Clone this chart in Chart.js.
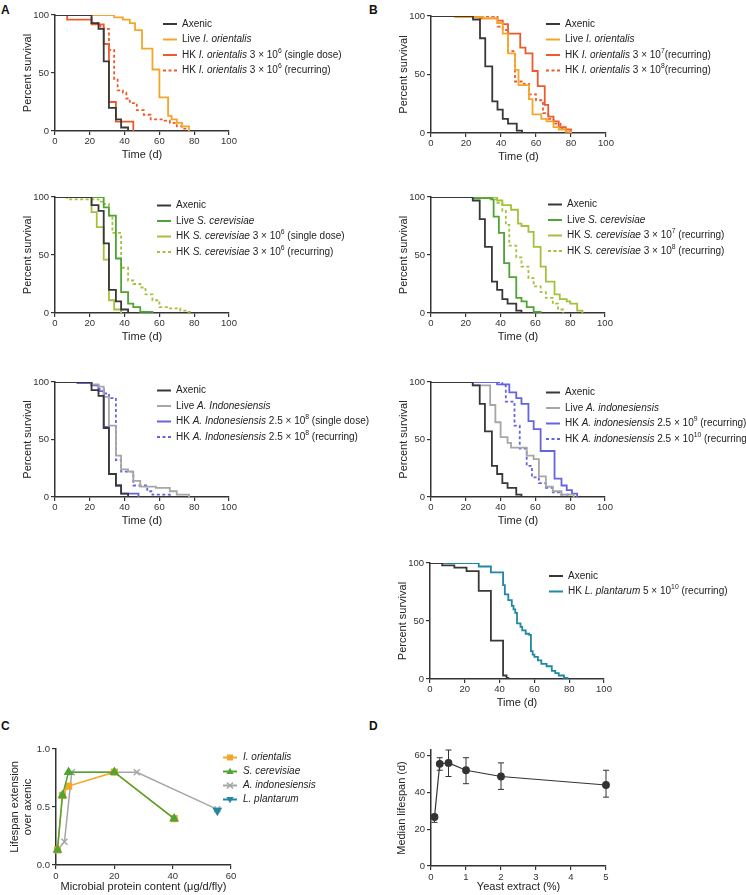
<!DOCTYPE html>
<html>
<head>
<meta charset="utf-8">
<script src="https://cdn.jsdelivr.net/npm/chart.js@4.4.1/dist/chart.umd.min.js"></script>
<style>
  html, body { margin: 0; padding: 0; background: #fff; }
  #page { position: relative; width: 746px; height: 895px; overflow: hidden; font-family: "Liberation Sans", Arial, sans-serif; }
  #page canvas { position: absolute; }
  .tag { position: absolute; font-weight: bold; font-size: 12px; line-height: 12px; color: #111; }
</style>
</head>
<body>
<div id="page">
  <div class="tag" style="left:1px;top:4px">A</div>
  <div class="tag" style="left:369px;top:4px">B</div>
  <div class="tag" style="left:1px;top:720px">C</div>
  <div class="tag" style="left:369px;top:720px">D</div>
</div>
<script>
// ticks
const timeTicks = [0, 20, 40, 60, 80, 100];
const survTicks = [0, 50, 100];

// Panel A : [time (d), percent survival]
const axenicA = [[0,100],[21,93],[25,88],[28,60],[31,20],[35,10],[38,3],[42,0]];
const liveIoA = [[0,100],[34,98],[39,96],[43,93],[46,87],[50,71],[56,53],[60,29],[65,13],[67,10],[70,7],[73,4],[77,0]];
const hkIoSingleA = [[0,100],[7,96],[21,92],[28,75],[31,25],[35,8],[45,0]];
const hkIoRecurA = [[0,100],[21,93],[26,90],[28,88],[31,70],[34,45],[36,35],[39,33],[41,28],[43,24],[47,18],[51,14],[55,10],[63,9],[66,7],[70,4],[73,2],[75,0]];

const liveScA = [[0,100],[28,91],[31,84],[35,47],[38,18],[42,8],[45,5],[49,1],[56,0]];
const hkScSingleA = [[0,100],[21,87],[24,74],[28,46],[31,11],[34,3],[38,0]];
const hkScRecurA = [[0,100],[7,98],[25,96],[28,94],[31,84],[33,69],[38,39],[42,28],[45,25],[49,22],[52,16],[56,11],[60,5],[65,4],[72,2],[75,1],[78,0]];

const liveAiA = [[0,100],[21,98],[25,96],[28,87],[31,62],[35,36],[38,24],[42,22],[45,14],[49,9],[58,8],[66,5],[70,2],[77,0]];
const hkAiSingleA = [[0,100],[13,99],[21,97],[25,92],[28,61],[31,20],[35,10],[38,3],[48,0]];
const hkAiRecurA = [[0,100],[13,99],[21,97],[25,94],[28,90],[31,86],[35,32],[38,22],[45,10],[53,5],[56,2],[66,0]];

// Panel B
const axenicB = [[0,100],[24,97],[28,81],[31,57],[35,27],[38,20],[41,12],[44,8],[49,2],[52,0]];
const liveIoB = [[0,100],[14,99],[30,98],[38,94],[41,85],[44,68],[48,54],[50,41],[56,29],[58,16],[63,12],[66,10],[70,5],[73,3],[77,1],[80,0]];
const hkIo7B = [[0,100],[14,99],[28,98],[38,96],[41,93],[44,85],[51,73],[54,68],[58,53],[61,40],[65,24],[67,14],[70,10],[73,5],[77,3],[80,0]];
const hkIo8B = [[0,100],[38,91],[41,88],[44,70],[48,44],[53,42],[56,33],[60,28],[64,17],[67,12],[70,8],[74,4],[77,1],[80,0]];

const liveScB = [[0,100],[24,99],[35,98],[36,83],[39,69],[42,43],[45,31],[49,13],[52,10],[55,5],[59,1],[63,0]];
const hkSc7B = [[0,100],[38,97],[41,93],[46,89],[50,77],[52,75],[56,70],[59,57],[63,40],[66,27],[71,16],[74,12],[78,10],[80,8],[84,2],[87,0]];
const hkSc8B = [[0,100],[33,98],[38,95],[41,88],[43,76],[45,58],[49,48],[52,40],[56,30],[59,23],[63,18],[66,13],[70,8],[73,3],[76,0]];

const liveAiB = [[0,100],[24,97],[34,80],[37,65],[40,52],[44,47],[46,43],[55,36],[59,33],[62,18],[66,9],[70,5],[75,2],[82,0]];
const hkAi9B = [[0,100],[38,98],[45,91],[49,86],[52,81],[56,66],[59,59],[63,40],[71,16],[75,10],[78,6],[81,3],[84,0]];
const hkAi10B = [[0,100],[41,97],[43,83],[48,62],[51,42],[55,27],[58,17],[62,12],[66,8],[70,4],[74,2],[79,0]];

const axenicLp = [[0,100],[7,98],[14,96],[21,93],[28,76],[35,33],[42,3],[44,1],[45,0]];
const hkLpB = [[0,100],[28,97],[35,92],[42,81],[43,73],[45,68],[47,63],[48,60],[49,57],[50,48],[52,45],[53,42],[55,39],[57,38],[58,24],[59,21],[60,19],[62,16],[64,13],[67,11],[70,7],[72,5],[74,3],[77,1],[79,0]];

// Panel C : microbial protein content (ug/d/fly) vs lifespan extension
const protTicks = [0, 20, 40, 60];
const extTicks = [0, 0.5, 1];
const ioProt = [0.5, 2.2, 4.3, 20, 40.5];
const ioExt = [0.13, 0.60, 0.68, 0.80, 0.40];
const scProt = [0.5, 2.2, 4.3, 20, 40.5];
const scExt = [0.13, 0.60, 0.80, 0.80, 0.40];
const aiProt = [0.5, 2.9, 5.4, 27.7, 55.3];
const aiExt = [0.13, 0.20, 0.80, 0.80, 0.48];
const lpProt = [55.3];
const lpExt = [0.47];

// Panel D : yeast extract (%) vs median lifespan (d)
const yeastTicks = [0, 1, 2, 3, 4, 5];
const lifeTicks = [0, 20, 40, 60];
const yeastPct = [0.1, 0.25, 0.5, 1, 2, 5];
const medianLife = [26.6, 55.5, 56, 52, 48.6, 44];
const medianLo = [23.7, 52, 48.6, 44.7, 41.6, 37.4];
const medianHi = [28, 58.8, 63, 58.8, 56, 52];

const FAM = '"Liberation Sans", Arial, Helvetica, sans-serif';
Chart.defaults.font.family = FAM;
Chart.defaults.color = '#333';

const DARK = '#383838', ORANGE = '#F4A62A', RED = '#EF5A2C', GREEN = '#4FA534',
      LIME = '#A4C13C', GRAY = '#A6A6A6', BLUE = '#6464E2', TEAL = '#2088A2';
const DASH = [3, 2.5];

const page = document.getElementById('page');

function addCanvas(left, top, w, h) {
  const c = document.createElement('canvas');
  c.width = w; c.height = h;
  c.style.left = left + 'px'; c.style.top = top + 'px';
  c.style.width = w + 'px'; c.style.height = h + 'px';
  page.appendChild(c);
  return c;
}

function fixTicks(list) {
  return s => { s.ticks = list.map(v => ({ value: v })); };
}

function axis(min, max, list, title, extra) {
  return Object.assign({
    type: 'linear', min, max,
    afterBuildTicks: fixTicks(list),
    grid: { display: true, drawOnChartArea: false, drawTicks: true, tickLength: 4, color: '#333', lineWidth: 1.2 },
    border: { display: true, color: '#333', width: 1.5 },
    ticks: { color: '#333', font: { size: 9.5 }, padding: 2 },
    title: { display: true, text: title, color: '#222', font: { size: 11 }, padding: { top: 4, bottom: 1 } }
  }, extra);
}

function drawRuns(ctx, runs, x, y) {
  runs.forEach(r => {
    let txt = r, font = '10px ' + FAM, dy = 0;
    if (typeof r === 'object') {
      if (r.i) { txt = r.i; font = 'italic 10px ' + FAM; }
      else { txt = r.sup; font = '6.8px ' + FAM; dy = -4; }
    }
    ctx.font = font;
    ctx.fillText(txt, x, y + dy);
    x += ctx.measureText(txt).width;
  });
}

function drawMarker(ctx, style, x, y, color) {
  ctx.save();
  ctx.fillStyle = color; ctx.strokeStyle = color; ctx.lineWidth = 1.5;
  ctx.beginPath();
  if (style === 'rect') { ctx.rect(x - 3, y - 3, 6, 6); ctx.fill(); }
  else if (style === 'triangle') { ctx.moveTo(x, y - 3.8); ctx.lineTo(x + 3.6, y + 2.6); ctx.lineTo(x - 3.6, y + 2.6); ctx.closePath(); ctx.fill(); }
  else if (style === 'down') { ctx.moveTo(x, y + 3.8); ctx.lineTo(x + 3.6, y - 2.6); ctx.lineTo(x - 3.6, y - 2.6); ctx.closePath(); ctx.fill(); }
  else { ctx.moveTo(x - 3, y - 3); ctx.lineTo(x + 3, y + 3); ctx.moveTo(x + 3, y - 3); ctx.lineTo(x - 3, y + 3); ctx.stroke(); }
  ctx.restore();
}

let pluginCount = 0;
function legendPlugin(spec) {
  return {
    id: 'richLegend' + (pluginCount++),
    afterDraw(chart) {
      const ctx = chart.ctx;
      spec.items.forEach((it, k) => {
        const y = spec.y + k * spec.gap;
        ctx.save();
        ctx.strokeStyle = it.color; ctx.lineWidth = 2;
        ctx.setLineDash(it.dash || []);
        ctx.beginPath(); ctx.moveTo(spec.x, y); ctx.lineTo(spec.x + 14, y); ctx.stroke();
        ctx.setLineDash([]);
        if (it.marker) drawMarker(ctx, it.marker, spec.x + 7, y, it.color);
        ctx.fillStyle = '#222'; ctx.textBaseline = 'middle'; ctx.textAlign = 'left';
        drawRuns(ctx, it.label, spec.x + spec.tx, y);
        ctx.restore();
      });
    }
  };
}

// box = [left, top, right, bottom] of plot area on page; legendAt = [lineX, firstRowY] on page
function survivalChart(box, sets, legendAt) {
  const [L, T, R, B] = box;
  const cl = L - 55, ct = T - 15;
  const cw = cl < 300 ? 400 : 746 - cl, ch = (B - T) + 15 + 32;
  const cvs = addCanvas(cl, ct, cw, ch);
  new Chart(cvs, {
    type: 'line',
    data: {
      datasets: sets.map(s => ({
        data: s.pts.map(p => ({ x: p[0], y: p[1] })),
        borderColor: s.color,
        borderWidth: 1.8,
        borderDash: s.dash || [],
        stepped: true,
        pointRadius: 0,
        fill: false
      }))
    },
    options: {
      responsive: false, animation: false, events: [],
      layout: { padding: { left: 17, top: 15, right: cw - 55 - (R - L), bottom: 0 } },
      plugins: { legend: { display: false }, tooltip: { enabled: false } },
      scales: {
        x: axis(0, 100, timeTicks, 'Time (d)', { afterFit: s => { s.height = 32; }, ticks: { color: '#333', font: { size: 9.5 }, padding: 1, maxRotation: 0 } }),
        y: axis(0, 100, survTicks, 'Percent survival', { afterFit: s => { s.width = 38; } })
      }
    },
    plugins: [legendPlugin({
      x: legendAt[0] - cl, y: legendAt[1] - ct, gap: 15.5, tx: 19,
      items: sets.map(s => ({ color: s.color, dash: s.dash, label: s.label }))
    })]
  });
}

const sup = t => ({ sup: t });
const it = t => ({ i: t });

// ---- Panel A ----
survivalChart([55, 15, 229, 131], [
  { pts: axenicA, color: DARK, label: ['Axenic'] },
  { pts: liveIoA, color: ORANGE, label: ['Live ', it('I. orientalis')] },
  { pts: hkIoSingleA, color: RED, label: ['HK ', it('I. orientalis'), ' 3 × 10', sup('6'), ' (single dose)'] },
  { pts: hkIoRecurA, color: RED, dash: DASH, label: ['HK ', it('I. orientalis'), ' 3 × 10', sup('6'), ' (recurring)'] }
], [163, 24]);

survivalChart([55, 197, 229, 313], [
  { pts: axenicA, color: DARK, label: ['Axenic'] },
  { pts: liveScA, color: GREEN, label: ['Live ', it('S. cerevisiae')] },
  { pts: hkScSingleA, color: LIME, label: ['HK ', it('S. cerevisiae'), ' 3 × 10', sup('6'), ' (single dose)'] },
  { pts: hkScRecurA, color: LIME, dash: DASH, label: ['HK ', it('S. cerevisiae'), ' 3 × 10', sup('6'), ' (recurring)'] }
], [157, 205.5]);

survivalChart([55, 382, 229, 497], [
  { pts: axenicA, color: DARK, label: ['Axenic'] },
  { pts: liveAiA, color: GRAY, label: ['Live ', it('A. Indonesiensis')] },
  { pts: hkAiSingleA, color: BLUE, label: ['HK ', it('A. Indonesiensis'), ' 2.5 × 10', sup('8'), ' (single dose)'] },
  { pts: hkAiRecurA, color: BLUE, dash: DASH, label: ['HK ', it('A. Indonesiensis'), ' 2.5 × 10', sup('8'), ' (recurring)'] }
], [157, 390.5]);

// ---- Panel B ----
survivalChart([431, 16, 606, 133], [
  { pts: axenicB, color: DARK, label: ['Axenic'] },
  { pts: liveIoB, color: ORANGE, label: ['Live ', it('I. orientalis')] },
  { pts: hkIo7B, color: RED, label: ['HK ', it('I. orientalis'), ' 3 × 10', sup('7'), '(recurring)'] },
  { pts: hkIo8B, color: RED, dash: DASH, label: ['HK ', it('I. orientalis'), ' 3 × 10', sup('8'), '(recurring)'] }
], [546, 24]);

survivalChart([431, 197, 605, 313], [
  { pts: axenicB, color: DARK, label: ['Axenic'] },
  { pts: liveScB, color: GREEN, label: ['Live ', it('S. cerevisiae')] },
  { pts: hkSc7B, color: LIME, label: ['HK ', it('S. cerevisiae'), ' 3 × 10', sup('7'), ' (recurring)'] },
  { pts: hkSc8B, color: LIME, dash: DASH, label: ['HK ', it('S. cerevisiae'), ' 3 × 10', sup('8'), ' (recurring)'] }
], [548, 204.5]);

survivalChart([431, 382, 605, 497], [
  { pts: axenicB, color: DARK, label: ['Axenic'] },
  { pts: liveAiB, color: GRAY, label: ['Live ', it('A. indonesiensis')] },
  { pts: hkAi9B, color: BLUE, label: ['HK ', it('A. indonesiensis'), ' 2.5 × 10', sup('9'), ' (recurring)'] },
  { pts: hkAi10B, color: BLUE, dash: DASH, label: ['HK ', it('A. indonesiensis'), ' 2.5 × 10', sup('10'), ' (recurring)'] }
], [546, 392.5]);

survivalChart([430, 563, 604, 679], [
  { pts: axenicLp, color: DARK, label: ['Axenic'] },
  { pts: hkLpB, color: TEAL, label: ['HK ', it('L. plantarum'), ' 5 × 10', sup('10'), ' (recurring)'] }
], [549, 576]);

// ---- Panel C ----
(function () {
  const cvs = addCanvas(0, 740, 373, 155);
  const mk = (xs, ys) => xs.map((x, k) => ({ x, y: ys[k] }));
  const series = [
    { data: mk(ioProt, ioExt), color: ORANGE, style: 'rect', order: 2, label: 'I. orientalis', marker: 'rect' },
    { data: mk(scProt, scExt), color: GREEN, style: 'triangle', order: 0, label: 'S. cerevisiae', marker: 'triangle' },
    { data: mk(aiProt, aiExt), color: GRAY, style: 'crossRot', order: 3, label: 'A. indonesiensis', marker: 'cross' },
    { data: mk(lpProt, lpExt), color: TEAL, style: 'triangle', rot: 180, order: 1, label: 'L. plantarum', marker: 'down' }
  ];
  new Chart(cvs, {
    type: 'line',
    data: {
      datasets: series.map(s => ({
        data: s.data, order: s.order,
        borderColor: s.color, backgroundColor: s.color, borderWidth: 1.5,
        pointStyle: s.style, pointRotation: s.rot || 0,
        pointRadius: s.style === 'rect' ? 4 : 4.2,
        pointBackgroundColor: s.color, pointBorderColor: s.color, pointBorderWidth: 1.5,
        clip: false, tension: 0
      }))
    },
    options: {
      responsive: false, animation: false, events: [],
      layout: { padding: { left: 4, top: 9, right: 142, bottom: 0 } },
      plugins: { legend: { display: false }, tooltip: { enabled: false } },
      scales: {
        x: axis(0, 60, protTicks, 'Microbial protein content (μg/d/fly)', { afterFit: s => { s.height = 30; } }),
        y: axis(0, 1, extTicks, ['Lifespan extension', 'over axenic'], {
          afterFit: s => { s.width = 52; },
          ticks: { color: '#333', font: { size: 9.5 }, padding: 2, callback: v => v.toFixed(1) }
        })
      }
    },
    plugins: [legendPlugin({
      x: 223, y: 757.5 - 740, gap: 14, tx: 20,
      items: series.map(s => ({ color: s.color, marker: s.marker, label: [it(s.label)] }))
    })]
  });
})();

// ---- Panel D ----
(function () {
  const cvs = addCanvas(376, 740, 370, 155);
  const errorBars = {
    id: 'errorBars',
    afterDatasetsDraw(chart) {
      const { ctx, scales: { x, y } } = chart;
      ctx.save();
      ctx.strokeStyle = '#333'; ctx.lineWidth = 1;
      yeastPct.forEach((v, k) => {
        const px = x.getPixelForValue(v);
        const lo = y.getPixelForValue(medianLo[k]);
        const hi = y.getPixelForValue(medianHi[k]);
        ctx.beginPath();
        ctx.moveTo(px, lo); ctx.lineTo(px, hi);
        ctx.moveTo(px - 3, lo); ctx.lineTo(px + 3, lo);
        ctx.moveTo(px - 3, hi); ctx.lineTo(px + 3, hi);
        ctx.stroke();
      });
      ctx.restore();
    }
  };
  new Chart(cvs, {
    type: 'line',
    data: {
      datasets: [{
        data: yeastPct.map((x, k) => ({ x, y: medianLife[k] })),
        borderColor: '#333', borderWidth: 1.2,
        pointRadius: 3.3, pointBackgroundColor: '#333', pointBorderColor: '#333',
        clip: false, tension: 0
      }]
    },
    options: {
      responsive: false, animation: false, events: [],
      layout: { padding: { left: 15, top: 10, right: 140, bottom: 0 } },
      plugins: { legend: { display: false }, tooltip: { enabled: false } },
      scales: {
        x: axis(0, 5, yeastTicks, 'Yeast extract (%)', { afterFit: s => { s.height = 29; } }),
        y: axis(0, 63, lifeTicks, 'Median lifespan (d)', { afterFit: s => { s.width = 40; } })
      }
    },
    plugins: [errorBars]
  });
})();
</script>
</body>
</html>
